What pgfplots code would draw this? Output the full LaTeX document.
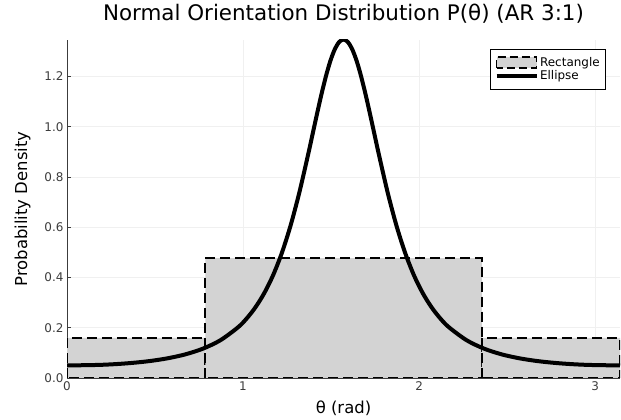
\documentclass[border=0pt]{standalone}
\usepackage{fontspec}
\setmainfont{DejaVu Sans}
\usepackage{pgfplots}
\pgfplotsset{compat=1.18}
\definecolor{rectfill}{RGB}{211,211,211}
\definecolor{axgray}{RGB}{60,60,60}

\begin{document}
\begin{tikzpicture}
  \useasboundingbox (-67bp,-42bp) rectangle (554bp,378bp);
  \begin{axis}[
    scale only axis,
    width  = 553bp,
    height = 338bp,
    xmin = 0, xmax = 3.14159,
    ymin = 0, ymax = 1.345,
    xtick = {0,1,2,3},
    xticklabels = {0,1,2,3},
    ytick = {0,0.2,0.4,0.6,0.8,1.0,1.2},
    yticklabels = {0.0,0.2,0.4,0.6,0.8,1.0,1.2},
    axis x line* = bottom,
    axis y line* = left,
    axis line style = {axgray, line width=0.9bp, -},
    tick style = {axgray, line width=0.8bp},
    tick align = inside,
    major tick length = 4bp,
    grid = major,
    grid style = {black!6, line width=0.8bp},
    yticklabel style = {font=\fontsize{12}{13}\selectfont, color=axgray},
    xticklabel style = {font=\fontsize{12}{13}\selectfont, color=axgray},
    xlabel = {θ (rad)},
    ylabel = {Probability Density},
    xlabel style = {font=\fontsize{16.5}{18}\selectfont,
                    at={(axis description cs:0.5,-0.1036)}, anchor=base},
    ylabel style = {font=\fontsize{16.5}{18}\selectfont,
                    at={(axis description cs:-0.0723,0.5)}, anchor=base},
    title = {Normal Orientation Distribution P(θ) (AR 3:1)},
    title style = {font=\fontsize{21.5}{24}\selectfont,
                   at={(axis description cs:0.5,1.0393)}, anchor=base},
    legend style = {at={(0.9747,0.9734)}, anchor=north east,
                    font=\fontsize{12}{12}\selectfont, draw=black, line width=0.7bp,
                    fill=white, row sep=-0.5bp, inner xsep=4.5bp, inner ysep=6.5bp,
                    nodes={inner sep=1.5bp}},
    legend cell align = left,
  ]
    % rectangle: three bars
    \addplot[draw=black, fill=rectfill, line width=2bp, dash pattern=on 10bp off 5bp,
             legend image code/.code={
               \draw[fill=rectfill, line width=1.6bp, dash pattern=on 8bp off 4bp]
                 (0bp,-5.5bp) rectangle (40bp,5.5bp);}]
      coordinates {(0,0) (0,0.1592) (0.7854,0.1592) (0.7854,0) (0,0)};
    \addlegendentry{Rectangle}
    \addplot[draw=black, fill=rectfill, line width=2bp, dash pattern=on 10bp off 5bp, forget plot]
      coordinates {(0.7854,0) (0.7854,0.4775) (2.3562,0.4775) (2.3562,0) (0.7854,0)};
    \addplot[draw=black, fill=rectfill, line width=2bp, dash pattern=on 10bp off 5bp, forget plot]
      coordinates {(2.3562,0) (2.3562,0.1592) (3.1416,0.1592) (3.1416,0) (2.3562,0)};
    % ellipse
    \addplot[black, line width=4bp, smooth,
             legend image code/.code={
               \draw[black, line width=4bp] (0bp,0bp) -- (40bp,0bp);}]
      table {
        x y
        0.0000 0.0499
        0.1708 0.0519
        0.2708 0.0550
        0.3708 0.0601
        0.4708 0.0675
        0.5708 0.0783
        0.6708 0.0938
        0.7708 0.1164
        0.8708 0.1500
        0.9708 0.2013
        1.0208 0.2369
        1.0708 0.2816
        1.1208 0.3380
        1.1708 0.4090
        1.2208 0.4982
        1.2708 0.6083
        1.3208 0.7407
        1.3708 0.8924
        1.3958 0.9724
        1.4208 1.0525
        1.4458 1.1297
        1.4708 1.2004
        1.4958 1.2609
        1.5208 1.3074
        1.5458 1.3368
        1.5708 1.3468
        1.5958 1.3368
        1.6208 1.3074
        1.6458 1.2609
        1.6708 1.2004
        1.6958 1.1297
        1.7208 1.0525
        1.7458 0.9724
        1.7708 0.8924
        1.8208 0.7407
        1.8708 0.6083
        1.9208 0.4982
        1.9708 0.4090
        2.0208 0.3380
        2.0708 0.2816
        2.1208 0.2369
        2.1708 0.2013
        2.2708 0.1500
        2.3708 0.1164
        2.4708 0.0938
        2.5708 0.0783
        2.6708 0.0675
        2.7708 0.0601
        2.8708 0.0550
        2.9708 0.0519
        3.1416 0.0499
      };
    \addlegendentry{Ellipse}
  \end{axis}
\end{tikzpicture}
\end{document}
